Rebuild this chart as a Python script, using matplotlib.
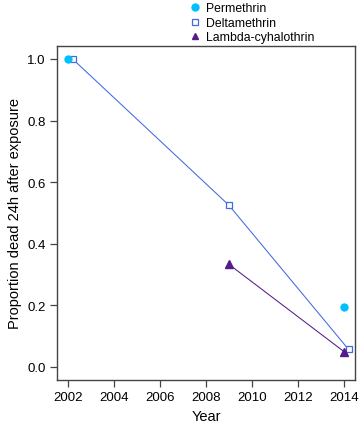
import matplotlib
matplotlib.use("Agg")
import matplotlib.pyplot as plt
from matplotlib.lines import Line2D

plt.rcParams['font.family'] = ['Liberation Sans', 'DejaVu Sans']

# data
perm_years = [2002.0, 2014.0]
perm_dead = [1.0, 0.195]

delta_years = [2002.2, 2009.0, 2014.2]
delta_dead = [1.0, 0.525, 0.057]

lambda_years = [2009.0, 2014.0]
lambda_dead = [0.333, 0.05]

x_ticks = [2002, 2004, 2006, 2008, 2010, 2012, 2014]
y_ticks = [0.0, 0.2, 0.4, 0.6, 0.8, 1.0]

c_perm = '#00BFFF'
c_delta = '#4169E1'
c_lambda = '#551A8B'

fig = plt.figure(figsize=(3.6, 4.27), dpi=100)
ax = fig.add_axes([0.158, 0.108, 0.828, 0.782])

# Permethrin: points only
ax.plot(perm_years, perm_dead, linestyle='none', marker='o', ms=5,
        color=c_perm, zorder=3)
# Deltamethrin: line + open squares
ax.plot(delta_years, delta_dead, color=c_delta, lw=0.75, marker='s', ms=5,
        mfc='white', mec=c_delta, mew=0.9, zorder=2)
# Lambda-cyhalothrin: line + filled triangles
ax.plot(lambda_years, lambda_dead, color=c_lambda, lw=0.75, marker='^', ms=6,
        zorder=2)

ax.set_xlim(2001.52, 2014.48)
ax.set_ylim(-0.042, 1.042)
ax.set_xticks(x_ticks)
ax.set_yticks(y_ticks)
ax.set_yticklabels([f"{v:.1f}" for v in y_ticks])
ax.tick_params(direction='out', length=5, width=0.9, color='#444444',
               labelsize=9.5, pad=3)
for s in ax.spines.values():
    s.set_color('#444444')
    s.set_linewidth(1.0)

ax.set_xlabel("Year", fontsize=10.5)
ax.set_ylabel("Proportion dead 24h after exposure", fontsize=10.5)

handles = [
    Line2D([], [], linestyle='none', marker='o', ms=5, color=c_perm),
    Line2D([], [], linestyle='none', marker='s', ms=5, mfc='white',
           mec=c_delta, mew=0.9),
    Line2D([], [], linestyle='none', marker='^', ms=5, color=c_lambda),
]
labels = ["Permethrin", "Deltamethrin", "Lambda-cyhalothrin"]
fig.legend(handles, labels, loc='upper left', bbox_to_anchor=(0.5, 1.012),
           frameon=False, fontsize=8.8, handlelength=1.0, handletextpad=0.4,
           labelspacing=0.2, borderpad=0.2)

fig.savefig("out.png", dpi=100)
